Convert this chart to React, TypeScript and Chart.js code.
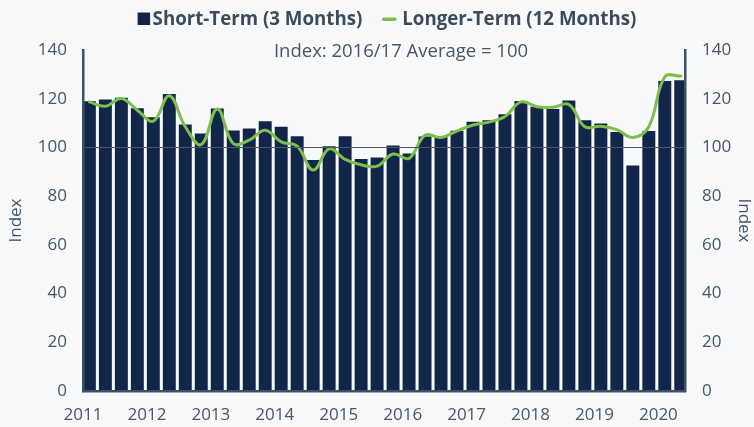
import React, { useEffect, useRef } from 'react';
import { Chart, registerables } from 'chart.js';

Chart.register(...registerables);

// ---- data ----
const quarters: string[] = [
  '2011 Q1', '2011 Q2', '2011 Q3', '2011 Q4',
  '2012 Q1', '2012 Q2', '2012 Q3', '2012 Q4',
  '2013 Q1', '2013 Q2', '2013 Q3', '2013 Q4',
  '2014 Q1', '2014 Q2', '2014 Q3', '2014 Q4',
  '2015 Q1', '2015 Q2', '2015 Q3', '2015 Q4',
  '2016 Q1', '2016 Q2', '2016 Q3', '2016 Q4',
  '2017 Q1', '2017 Q2', '2017 Q3', '2017 Q4',
  '2018 Q1', '2018 Q2', '2018 Q3', '2018 Q4',
  '2019 Q1', '2019 Q2', '2019 Q3', '2019 Q4',
  '2020 Q1', '2020 Q2',
];

const shortTerm: number[] = [
  119.0, 119.7, 120.4, 116.1,
  112.4, 121.9, 109.4, 105.7,
  116.0, 107.0, 107.8, 110.7,
  108.5, 104.6, 94.8, 100.5,
  104.6, 95.3, 95.9, 100.8,
  97.5, 104.5, 104.4, 106.8,
  110.5, 111.2, 113.6, 119.1,
  116.7, 115.8, 119.3, 111.2,
  109.8, 106.3, 92.6, 106.7,
  127.3, 127.6,
];

const longerTerm: number[] = [
  118.7, 116.9, 120.1, 115.3,
  110.8, 121.2, 108.5, 101.2,
  115.8, 101.6, 103.0, 107.1,
  102.3, 100.5, 90.7, 99.4,
  95.1, 92.9, 92.3, 97.3,
  95.5, 105.0, 104.1, 106.8,
  109.2, 110.4, 112.7, 118.7,
  116.7, 116.5, 117.6, 108.5,
  108.7, 107.3, 104.1, 108.5,
  129.0, 129.3,
];

const yearTicks: number[] = [2011, 2012, 2013, 2014, 2015, 2016, 2017, 2018, 2019, 2020];
const seriesNames: string[] = ['Short-Term (3 Months)', 'Longer-Term (12 Months)'];
const subtitleText = 'Index: 2016/17 Average = 100';
const axisTitle = 'Index';
const referenceLevel = 100;

// ---- style ----
const NAVY = '#14254a';
const GREEN = '#7cc04b';
const TEXT = '#44566a';
const LEGEND_TEXT = '#3b4d5c';
const AXIS = '#3d5163';
const GRID = '#4c5862';
const BG = '#f8f9fa';
const FONT = "'Open Sans', sans-serif";

const quarterToX = (q: string): number => {
  const [y, qq] = q.split(' Q');
  return Number(y) + (Number(qq) - 1) / 4 + 0.1;
};

const decorPlugin = {
  id: 'decor',
  afterDraw(chart: any) {
    const ctx = chart.ctx as CanvasRenderingContext2D;
    ctx.save();
    // subtitle
    ctx.font = `18.5px ${FONT}`;
    ctx.fillStyle = TEXT;
    ctx.textAlign = 'center';
    ctx.textBaseline = 'alphabetic';
    ctx.fillText(subtitleText, 401, 57);

    // legend
    ctx.font = `bold 18.7px ${FONT}`;
    const w1 = ctx.measureText(seriesNames[0]).width;
    const w2 = ctx.measureText(seriesNames[1]).width;
    const box = 12.5;
    const total = box + 2.5 + w1 + 20 + 14 + 6 + w2;
    let x = 387 - total / 2;
    const baseline = 25;
    ctx.fillStyle = NAVY;
    ctx.fillRect(x, 12.5, box, box);
    x += box + 2.5;
    ctx.fillStyle = LEGEND_TEXT;
    ctx.textAlign = 'left';
    ctx.fillText(seriesNames[0], x, baseline);
    x += w1 + 20;
    ctx.strokeStyle = GREEN;
    ctx.lineWidth = 3.5;
    ctx.lineCap = 'round';
    ctx.beginPath();
    ctx.moveTo(x + 1.5, 19.3);
    ctx.lineTo(x + 14 - 1.5, 19.3);
    ctx.stroke();
    x += 14 + 6;
    ctx.fillStyle = LEGEND_TEXT;
    ctx.fillText(seriesNames[1], x, baseline);
    ctx.restore();
  },
};

export default function App() {
  const canvasRef = useRef<HTMLCanvasElement | null>(null);

  useEffect(() => {
    if (!canvasRef.current) return;
    const xs = quarters.map(quarterToX);
    const chart = new Chart(canvasRef.current, {
      type: 'bar',
      data: {
        datasets: [
          {
            type: 'line',
            label: seriesNames[1],
            data: xs.map((x, i) => ({ x, y: longerTerm[i] })),
            borderColor: GREEN,
            borderWidth: 3,
            tension: 0.4,
            pointRadius: 0,
            borderCapStyle: 'round',
            order: 0,
            yAxisID: 'y',
          } as any,
          {
            type: 'bar',
            label: seriesNames[0],
            data: xs.map((x, i) => ({ x, y: shortTerm[i] })),
            backgroundColor: NAVY,
            borderWidth: 0,
            inflateAmount: 0,
            barPercentage: 0.81,
            categoryPercentage: 1,
            order: 1,
            yAxisID: 'y',
          } as any,
        ],
      },
      options: {
        animation: false,
        responsive: false,
        devicePixelRatio: 1,
        layout: { padding: { top: 50, left: 0, right: 0, bottom: 0 } },
        plugins: {
          legend: { display: false },
          tooltip: { enabled: false },
        },
        scales: {
          x: {
            type: 'linear',
            position: 'bottom',
            offset: false,
            grace: 0,
            min: 2011,
            max: 2020.416,
            afterBuildTicks: (scale: any) => {
              scale.ticks = yearTicks.map((v) => ({ value: v }));
            },
            afterFit: (scale: any) => {
              scale.height = 36;
            },
            grid: { display: false, drawTicks: false, offset: false },
            border: { display: true, color: AXIS, width: 2.5, z: 1 },
            ticks: {
              font: { family: FONT, size: 17 },
              color: TEXT,
              padding: 14,
              maxRotation: 0,
              autoSkip: false,
              callback: (v: any) => String(v),
            },
          },
          y: {
            type: 'linear',
            position: 'left',
            min: 0,
            max: 140,
            afterFit: (scale: any) => {
              scale.width = 83;
            },
            ticks: {
              stepSize: 20,
              font: { family: FONT, size: 17 },
              color: TEXT,
              padding: 16,
            },
            grid: {
              drawTicks: false,
              z: 1,
              lineWidth: 1,
              color: (c: any) => (c.tick && c.tick.value === referenceLevel ? GRID : 'rgba(0,0,0,0)'),
            },
            border: { display: true, color: AXIS, width: 2.5, z: 1 },
            title: {
              display: true,
              text: axisTitle,
              font: { family: FONT, size: 17 },
              color: TEXT,
              padding: { top: 6, bottom: 0 },
            },
          },
          y2: {
            type: 'linear',
            position: 'right',
            min: 0,
            max: 140,
            afterFit: (scale: any) => {
              scale.width = 69;
            },
            ticks: {
              stepSize: 20,
              font: { family: FONT, size: 17 },
              color: TEXT,
              padding: 17,
            },
            grid: { display: false, drawTicks: false },
            border: { display: true, color: AXIS, width: 2.5, z: 1 },
            title: {
              display: true,
              text: axisTitle,
              font: { family: FONT, size: 17 },
              color: TEXT,
              padding: { top: 0, bottom: 0 },
            },
          },
        },
      } as any,
      plugins: [decorPlugin],
    });
    return () => chart.destroy();
  }, []);

  return (
    <div
      style={{
        position: 'absolute',
        left: 0,
        top: 0,
        width: 754,
        height: 427,
        background: BG,
      }}
    >
      <canvas ref={canvasRef} width={754} height={427} style={{ display: 'block', width: 754, height: 427 }} />
    </div>
  );
}
